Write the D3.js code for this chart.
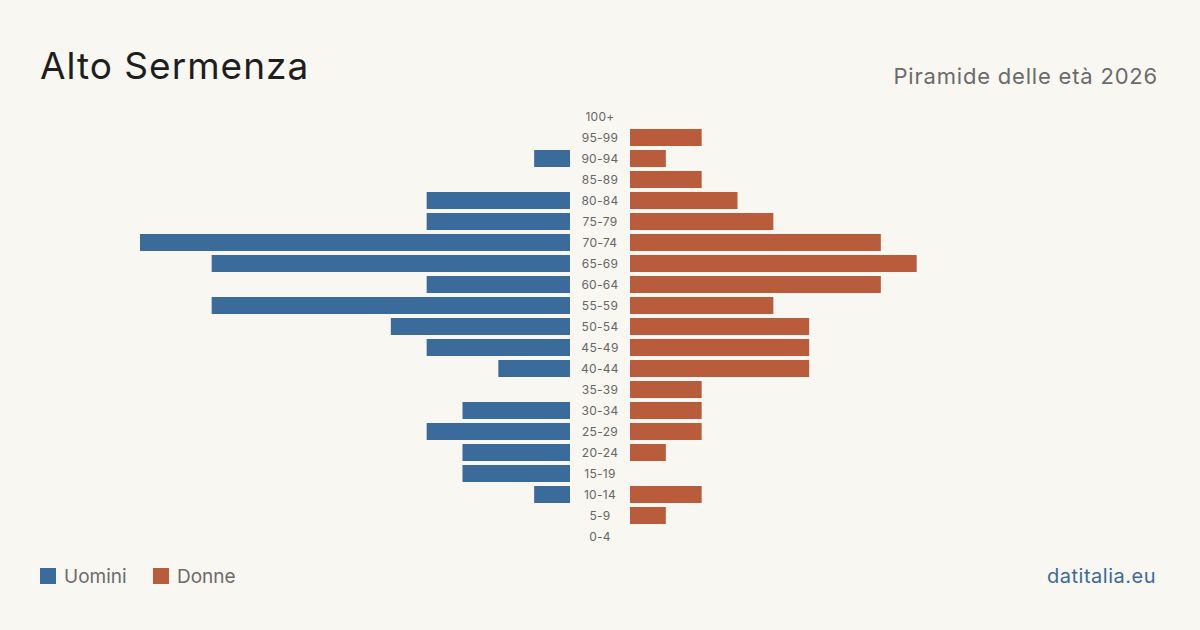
<!DOCTYPE html>
<html>
<head>
<meta charset="utf-8">
<script src="https://cdn.jsdelivr.net/npm/d3@7"></script>
<style>
  body { margin: 0; background: #f9f7f2; }
  svg { display: block; font-family: Inter, "Noto Sans", sans-serif; }
</style>
</head>
<body>
<div id="chart"></div>
<script>
const ageGroups = ["100+", "95-99", "90-94", "85-89", "80-84", "75-79", "70-74", "65-69", "60-64", "55-59",
  "50-54", "45-49", "40-44", "35-39", "30-34", "25-29", "20-24", "15-19", "10-14", "5-9", "0-4"];
const men =   [0, 0, 1, 0, 4, 4, 12, 10, 4, 10, 5, 4, 2, 0, 3, 4, 3, 3, 1, 0, 0];
const women = [0, 2, 1, 2, 3, 4, 7, 8, 7, 4, 5, 5, 5, 2, 2, 2, 1, 0, 2, 1, 0];

const width = 1200, height = 630;
const colMen = "#3a6b9b", colWomen = "#b95c3c";

const svg = d3.select("#chart").append("svg")
  .attr("width", width)
  .attr("height", height);

svg.append("rect").attr("width", width).attr("height", height).attr("fill", "#f9f7f2");

// titles
svg.append("text")
  .attr("x", 40).attr("y", 79)
  .attr("font-size", "37px")
  .attr("letter-spacing", "1px")
  .attr("fill", "#1e1e1e")
  .text("Alto Sermenza");

svg.append("text")
  .attr("x", 1158).attr("y", 84)
  .attr("text-anchor", "end")
  .attr("font-size", "22px")
  .attr("letter-spacing", "0.8px")
  .attr("fill", "#6b6b6b")
  .text("Piramide delle età 2026");

// scales
const y = d3.scaleBand()
  .domain(ageGroups)
  .range([106, 547])
  .paddingInner(0.19)
  .paddingOuter(0.095);

const x = d3.scaleLinear().domain([0, 12]).range([0, 430]);
const centerL = 570, centerR = 630;

const rows = ageGroups.map((g, i) => ({ group: g, m: men[i], f: women[i] }));

svg.selectAll(".bar-m")
  .data(rows.filter(d => d.m > 0))
  .join("rect")
  .attr("class", "bar-m")
  .attr("x", d => centerL - x(d.m))
  .attr("y", d => y(d.group))
  .attr("width", d => x(d.m))
  .attr("height", y.bandwidth())
  .attr("fill", colMen);

svg.selectAll(".bar-f")
  .data(rows.filter(d => d.f > 0))
  .join("rect")
  .attr("class", "bar-f")
  .attr("x", centerR)
  .attr("y", d => y(d.group))
  .attr("width", d => x(d.f))
  .attr("height", y.bandwidth())
  .attr("fill", colWomen);

// age labels
svg.selectAll(".age")
  .data(ageGroups)
  .join("text")
  .attr("class", "age")
  .attr("x", 600)
  .attr("y", d => y(d) + y.bandwidth() / 2)
  .attr("dy", "0.35em")
  .attr("text-anchor", "middle")
  .attr("font-size", "12px")
  .attr("letter-spacing", "0.3px")
  .attr("fill", "#666")
  .text(d => d);

// legend
const legend = [{ label: "Uomini", color: colMen, x: 40 }, { label: "Donne", color: colWomen, x: 153 }];
const lg = svg.selectAll(".legend")
  .data(legend)
  .join("g")
  .attr("transform", d => `translate(${d.x},568)`);
lg.append("rect").attr("width", 16).attr("height", 16).attr("fill", d => d.color);
lg.append("text")
  .attr("x", 24).attr("y", 15)
  .attr("font-size", "19px")
  .attr("fill", "#6b6b6b")
  .text(d => d.label);

svg.append("text")
  .attr("x", 1156).attr("y", 583)
  .attr("text-anchor", "end")
  .attr("font-size", "20px")
  .attr("letter-spacing", "0.5px")
  .attr("fill", colMen)
  .text("datitalia.eu");
</script>
</body>
</html>
